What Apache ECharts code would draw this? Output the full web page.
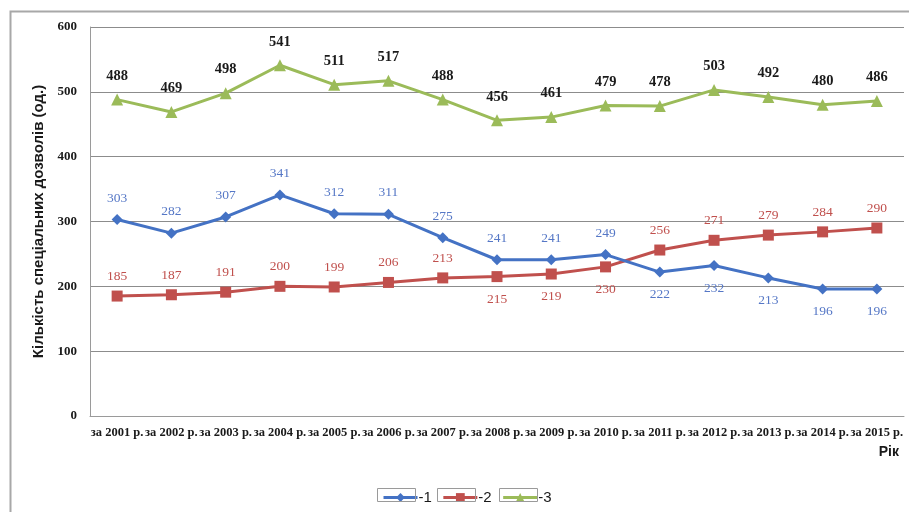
<!DOCTYPE html>
<html>
<head>
<meta charset="utf-8">
<script src="https://cdn.jsdelivr.net/npm/echarts@6/dist/echarts.min.js"></script>
<style>html,body{margin:0;padding:0;background:#fff}#c{width:909px;height:512px}</style>
</head>
<body>
<div id="c"></div>
<script>
var categories = ['за 2001 р.','за 2002 р.','за 2003 р.','за 2004 р.','за 2005 р.','за 2006 р.','за 2007 р.','за 2008 р.','за 2009 р.','за 2010 р.','за 2011 р.','за 2012 р.','за 2013 р.','за 2014 р.','за 2015 р.'];
var series1 = [303, 282, 307, 341, 312, 311, 275, 241, 241, 249, 222, 232, 213, 196, 196];
var series2 = [185, 187, 191, 200, 199, 206, 213, 215, 219, 230, 256, 271, 279, 284, 290];
var series3 = [488, 469, 498, 541, 511, 517, 488, 456, 461, 479, 478, 503, 492, 480, 486];
var seriesNames = ['-1', '-2', '-3'];
var yTicks = {min: 0, max: 600, interval: 100};
var yAxisTitle = 'Кількість спеціальних дозволів (од.)';
var xAxisTitle = 'Рік';

// label placement (which points have their label below)
var below1 = [10, 11, 12, 13, 14];
var below2 = [7, 8, 9];

function withLabels(vals, belowIdx, upDist, downDist) {
  return vals.map(function (v, i) {
    var b = belowIdx.indexOf(i) >= 0;
    return {value: v, label: {position: b ? 'bottom' : 'top', distance: b ? downDist : upDist}};
  });
}

var serif = '"Liberation Serif", "Times New Roman", serif';
var sans = '"Liberation Sans", Arial, sans-serif';

// legend key frames (decoration like the Excel legend)
var frameStyle = {fill: 'none', stroke: '#9a9a9a', lineWidth: 1};
function frame(x) {
  return {type: 'rect', left: x, top: 486, shape: {width: 38, height: 13}, style: frameStyle, silent: true, z: 10};
}

var chart = echarts.init(document.getElementById('c'));
chart.setOption({
  backgroundColor: '#ffffff',
  animation: false,
  grid: {left: 90, right: 5, top: 27, bottom: 96},
  graphic: [
    {type: 'rect', left: 8, top: 9, shape: {width: 960, height: 560}, style: {fill: 'none', stroke: '#a8a8a8', lineWidth: 2}, silent: true, z: -1},
    {type: 'text', right: 10, top: 445, style: {text: xAxisTitle, font: 'bold 14px ' + sans, fill: '#1a1a1a'}},
    frame(375), frame(435), frame(497)
  ],
  legend: {
    left: 377, top: 485,
    itemWidth: 34, itemHeight: 11, itemGap: 10,
    lineStyle: {width: 3},
    textStyle: {fontFamily: sans, fontSize: 15, color: '#1a1a1a', padding: [0, 0, 0, -4]},
    data: seriesNames
  },
  xAxis: {
    type: 'category',
    data: categories,
    boundaryGap: true,
    axisLine: {lineStyle: {color: '#9a9a9a', width: 1}},
    axisTick: {show: false},
    axisLabel: {interval: 0, margin: 10, fontFamily: serif, fontWeight: 'bold', fontSize: 12.5, color: '#1a1a1a'}
  },
  yAxis: {
    type: 'value',
    min: yTicks.min, max: yTicks.max, interval: yTicks.interval,
    name: yAxisTitle,
    nameLocation: 'middle',
    nameGap: 44,
    nameRotate: 90,
    nameTextStyle: {fontFamily: sans, fontWeight: 'bold', fontSize: 15, color: '#1a1a1a'},
    axisLine: {show: true, lineStyle: {color: '#9a9a9a', width: 1}},
    axisTick: {show: false},
    axisLabel: {margin: 13, fontFamily: serif, fontWeight: 'bold', fontSize: 13, color: '#1a1a1a'},
    splitLine: {lineStyle: {color: '#8c8c8c', width: 1}}
  },
  series: [
    {
      name: seriesNames[0], type: 'line',
      data: withLabels(series1, below1, 9, 10),
      symbol: 'diamond', symbolSize: 11,
      lineStyle: {color: '#4472c4', width: 3},
      itemStyle: {color: '#4472c4'},
      label: {show: true, fontFamily: serif, fontSize: 13.5, color: '#5577c6'},
      z: 3
    },
    {
      name: seriesNames[1], type: 'line',
      data: withLabels(series2, below2, 7, 10),
      symbol: 'rect', symbolSize: 11,
      lineStyle: {color: '#c0504d', width: 3},
      itemStyle: {color: '#c0504d'},
      label: {show: true, fontFamily: serif, fontSize: 13.5, color: '#c0504d'},
      z: 2
    },
    {
      name: seriesNames[2], type: 'line',
      data: withLabels(series3, [], 10, 10),
      symbol: 'triangle', symbolSize: 12,
      lineStyle: {color: '#9bbb59', width: 3},
      itemStyle: {color: '#9bbb59'},
      label: {show: true, fontFamily: serif, fontSize: 14.5, fontWeight: 'bold', color: '#1a1a1a'},
      z: 4
    }
  ]
});
</script>
</body>
</html>
